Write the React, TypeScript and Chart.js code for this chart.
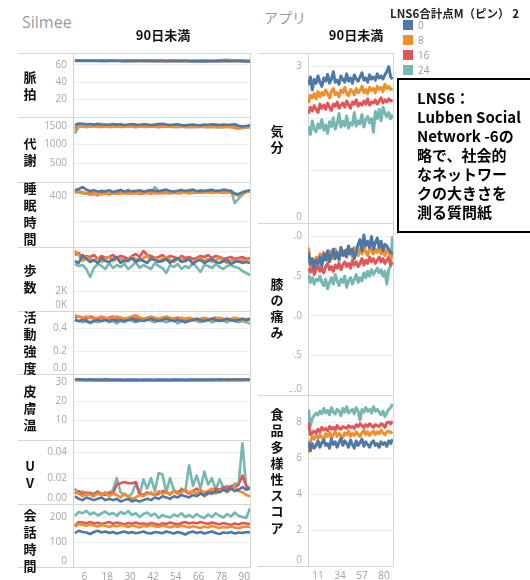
import React, { useEffect, useRef } from "react";
import { Chart, registerables } from "chart.js";

Chart.register(...registerables);

const FONT_CJK = '"Noto Sans CJK JP", "Noto Sans", sans-serif';
const FONT_TICK = '"Open Sans", "Noto Sans", sans-serif';

// ---------- series / legend ----------
const seriesNames = ["0", "8", "16", "24"];
const seriesColors = ["#4e79a7", "#f28e2b", "#e15759", "#76b7b2"];
const legendTitle = "LNS6合計点M（ピン） 2";

// ---------- x values (days) ----------
const silmeeDays = [1, 3, 5, 7, 9, 11, 13, 15, 17, 19, 21, 23, 25, 27, 29, 31, 33, 35, 37, 39, 41, 43, 45, 47, 49, 51, 53, 55, 57, 59, 61, 63, 65, 67, 69, 71, 73, 75, 77, 79, 81, 83, 85, 87, 89, 91, 93];
const appDays = [1, 3, 5, 7, 9, 11, 13, 15, 17, 19, 21, 23, 25, 27, 29, 31, 33, 35, 37, 39, 41, 43, 45, 47, 49, 51, 53, 55, 57, 59, 61, 63, 65, 67, 69, 71, 73, 75, 77, 79, 81, 83, 85, 87, 89];
const silmeeXTicks = [6, 18, 30, 42, 54, 66, 78, 90];
const appXTicks = [11, 34, 57, 80];

// ---------- Silmee: 脈拍 ----------
const pulseBlue = [64.6, 65.0, 64.7, 64.8, 64.5, 64.7, 64.9, 64.6, 64.4, 64.7, 64.8, 64.5, 64.6, 64.3, 64.7, 64.5, 64.4, 64.6, 64.7, 64.8, 64.5, 64.4, 64.6, 64.7, 64.3, 64.5, 64.6, 64.4, 64.7, 64.5, 64.2, 64.4, 64.3, 64.1, 64.4, 64.6, 64.3, 64.5, 64.4, 64.7, 64.6, 64.4, 64.5, 64.7, 64.4, 64.1, 64.0];
const pulseOrange = [65.2, 64.8, 65.0, 64.9, 65.1, 64.8, 65.0, 64.7, 64.9, 65.0, 64.8, 64.9, 64.6, 64.8, 64.7, 64.9, 64.6, 64.8, 64.5, 64.7, 64.6, 64.8, 64.5, 64.7, 64.4, 64.6, 64.5, 64.7, 64.4, 64.6, 64.5, 64.3, 64.6, 64.4, 64.5, 64.7, 64.4, 64.6, 64.5, 64.8, 64.6, 64.9, 64.7, 64.5, 64.6, 64.4, 64.5];
const pulseRed = [65.0, 65.3, 64.9, 65.1, 64.8, 65.0, 64.9, 65.1, 64.8, 64.9, 65.0, 64.8, 64.9, 64.7, 64.9, 64.6, 64.8, 64.9, 64.7, 64.8, 64.6, 64.9, 64.7, 64.5, 64.7, 64.8, 64.6, 64.7, 64.5, 64.6, 64.4, 64.6, 64.5, 64.7, 64.5, 64.4, 64.6, 64.5, 64.7, 64.6, 64.8, 64.6, 64.5, 64.7, 64.5, 64.6, 64.4];
const pulseTeal = [65.4, 65.1, 65.3, 64.9, 65.2, 65.0, 64.8, 65.1, 64.9, 65.2, 64.9, 65.1, 64.8, 65.0, 64.7, 65.2, 64.9, 64.8, 65.1, 64.9, 65.3, 64.8, 65.0, 64.7, 65.1, 64.9, 65.2, 64.8, 64.9, 65.1, 64.8, 64.9, 65.2, 64.8, 65.0, 64.7, 64.9, 65.1, 65.0, 65.8, 66.0, 65.3, 65.0, 64.8, 65.1, 64.9, 64.7];
const pulseTicks = [0, 20, 40, 60];
const pulseTickLabels = ["", "20", "40", "60"];

// ---------- 代謝 ----------
const metabBlue = [1520, 1560, 1555, 1540, 1545, 1530, 1550, 1540, 1535, 1525, 1545, 1530, 1540, 1520, 1535, 1545, 1530, 1525, 1540, 1535, 1520, 1530, 1545, 1550, 1535, 1525, 1530, 1540, 1520, 1510, 1525, 1530, 1520, 1515, 1530, 1525, 1540, 1530, 1520, 1535, 1525, 1530, 1540, 1500, 1480, 1495, 1510];
const metabOrange = [1380, 1500, 1490, 1480, 1495, 1485, 1490, 1475, 1480, 1490, 1485, 1470, 1480, 1475, 1490, 1485, 1470, 1480, 1485, 1490, 1475, 1480, 1470, 1485, 1490, 1480, 1465, 1475, 1480, 1470, 1475, 1465, 1470, 1480, 1475, 1460, 1470, 1475, 1465, 1460, 1470, 1465, 1455, 1440, 1450, 1460, 1470];
const metabRed = [1420, 1510, 1505, 1500, 1510, 1495, 1505, 1500, 1495, 1505, 1500, 1490, 1500, 1495, 1505, 1500, 1490, 1495, 1500, 1505, 1495, 1500, 1490, 1500, 1505, 1495, 1485, 1495, 1500, 1490, 1495, 1485, 1490, 1495, 1490, 1480, 1490, 1495, 1485, 1480, 1490, 1485, 1475, 1470, 1480, 1485, 1490];
const metabTeal = [1300, 1470, 1480, 1460, 1475, 1490, 1465, 1470, 1485, 1460, 1475, 1480, 1465, 1470, 1490, 1475, 1460, 1480, 1470, 1465, 1485, 1470, 1460, 1475, 1480, 1470, 1465, 1460, 1475, 1470, 1460, 1465, 1475, 1470, 1460, 1465, 1470, 1460, 1455, 1465, 1470, 1460, 1430, 1420, 1440, 1450, 1460];
const metabTicks = [0, 500, 1000, 1500];
const metabTickLabels = ["", "500", "1000", "1500"];

// ---------- 睡眠時間 ----------
const sleepBlue = [445, 455, 470, 450, 440, 445, 435, 440, 438, 445, 432, 440, 448, 436, 442, 438, 440, 445, 435, 442, 448, 440, 438, 445, 450, 440, 436, 442, 448, 440, 445, 450, 438, 442, 440, 445, 448, 440, 442, 450, 445, 438, 420, 415, 430, 440, 445];
const sleepOrange = [430, 440, 425, 420, 415, 418, 420, 412, 418, 422, 420, 416, 420, 425, 418, 422, 420, 425, 430, 422, 418, 425, 428, 420, 424, 430, 422, 426, 430, 425, 420, 428, 432, 425, 430, 428, 424, 430, 435, 428, 432, 430, 410, 405, 420, 430, 440];
const sleepRed = [425, 435, 430, 418, 422, 420, 415, 425, 420, 418, 424, 420, 426, 422, 418, 425, 428, 422, 420, 426, 430, 424, 420, 428, 425, 430, 426, 422, 430, 432, 428, 425, 430, 428, 432, 430, 428, 434, 430, 426, 432, 428, 412, 408, 425, 435, 438];
const sleepTeal = [440, 430, 420, 425, 410, 415, 405, 430, 420, 412, 425, 418, 440, 430, 450, 420, 428, 415, 425, 435, 420, 470, 440, 430, 425, 418, 432, 428, 420, 440, 436, 425, 430, 445, 438, 440, 450, 435, 428, 440, 430, 445, 345, 380, 410, 430, 440];
const sleepTicks = [0, 200, 400];
const sleepTickLabels = ["", "", "400"];

// ---------- 歩数 ----------
const stepsBlue = [5000, 4800, 5600, 5200, 4900, 5100, 4800, 5300, 5000, 4900, 5200, 5400, 4800, 5100, 5000, 5300, 4900, 5200, 5000, 4800, 5300, 5100, 4900, 5000, 5200, 4800, 5100, 5300, 4900, 5000, 5200, 4700, 5000, 5100, 4800, 5000, 5200, 4900, 4800, 5000, 5100, 4700, 4900, 5000, 4800, 4900, 4800];
const stepsOrange = [6000, 5600, 5000, 5400, 5200, 5000, 5300, 4900, 5200, 5400, 5000, 5200, 5300, 4900, 5100, 5400, 5200, 5000, 5300, 5500, 5100, 5300, 5000, 5200, 5400, 5100, 4900, 5200, 5300, 5000, 5200, 4800, 5100, 5300, 5000, 5200, 4900, 5100, 5300, 5000, 4800, 5100, 5000, 4900, 5100, 5000, 5200];
const stepsRed = [5600, 5800, 5300, 5500, 5400, 5600, 5200, 5500, 5300, 5400, 5600, 5300, 5500, 5400, 5200, 5500, 5700, 5400, 6000, 5600, 5500, 5300, 5400, 5600, 5300, 5500, 5400, 5200, 5500, 5300, 5400, 5200, 5300, 5500, 5400, 5600, 5300, 5500, 5400, 5200, 5300, 5400, 5200, 5300, 5400, 5200, 5300];
const stepsTeal = [4700, 4500, 4600, 4200, 3400, 4300, 4700, 4500, 4200, 4800, 4300, 4600, 4400, 4700, 4200, 4500, 4900, 4300, 4600, 4400, 4200, 4800, 4500, 4300, 3800, 4600, 4400, 4700, 4200, 4500, 4300, 4800, 4400, 3900, 4600, 4500, 4300, 4700, 4400, 4200, 4500, 4600, 4400, 4300, 4000, 3800, 3600];
const stepsTicks = [0, 2000, 4000, 6000];
const stepsTickLabels = ["0K", "2K", "", ""];

// ---------- 活動強度 ----------
const actBlue = [0.47, 0.46, 0.47, 0.46, 0.45, 0.46, 0.47, 0.46, 0.47, 0.46, 0.47, 0.46, 0.47, 0.46, 0.47, 0.48, 0.46, 0.47, 0.46, 0.47, 0.48, 0.47, 0.46, 0.47, 0.48, 0.47, 0.46, 0.47, 0.46, 0.45, 0.46, 0.47, 0.48, 0.47, 0.46, 0.47, 0.48, 0.47, 0.46, 0.47, 0.48, 0.47, 0.46, 0.47, 0.48, 0.47, 0.48];
const actOrange = [0.51, 0.50, 0.49, 0.50, 0.49, 0.48, 0.49, 0.50, 0.49, 0.48, 0.49, 0.50, 0.49, 0.48, 0.49, 0.50, 0.51, 0.49, 0.48, 0.49, 0.50, 0.49, 0.48, 0.49, 0.50, 0.49, 0.48, 0.47, 0.49, 0.48, 0.49, 0.48, 0.47, 0.48, 0.49, 0.48, 0.47, 0.48, 0.49, 0.48, 0.47, 0.48, 0.49, 0.48, 0.47, 0.48, 0.47];
const actRed = [0.49, 0.50, 0.49, 0.48, 0.50, 0.49, 0.48, 0.49, 0.48, 0.49, 0.50, 0.48, 0.49, 0.48, 0.47, 0.49, 0.48, 0.49, 0.48, 0.49, 0.48, 0.47, 0.48, 0.49, 0.48, 0.47, 0.48, 0.49, 0.48, 0.47, 0.48, 0.47, 0.48, 0.47, 0.48, 0.47, 0.48, 0.49, 0.48, 0.47, 0.48, 0.47, 0.48, 0.47, 0.48, 0.47, 0.48];
const actTeal = [0.47, 0.46, 0.45, 0.46, 0.44, 0.46, 0.45, 0.46, 0.47, 0.45, 0.46, 0.44, 0.46, 0.45, 0.47, 0.46, 0.45, 0.46, 0.47, 0.48, 0.46, 0.45, 0.47, 0.46, 0.45, 0.46, 0.47, 0.44, 0.46, 0.45, 0.46, 0.47, 0.46, 0.45, 0.46, 0.47, 0.45, 0.46, 0.47, 0.46, 0.45, 0.47, 0.46, 0.45, 0.46, 0.45, 0.44];
const actTicks = [0, 0.2, 0.4];
const actTickLabels = ["0.0", "0.2", "0.4"];

// ---------- 皮膚温 ----------
const skinBlue = [31.2, 31.3, 31.1, 31.2, 31.3, 31.2, 31.1, 31.2, 31.3, 31.1, 31.2, 31.1, 31.2, 31.0, 31.1, 31.2, 31.1, 31.0, 31.1, 31.2, 31.1, 31.0, 31.1, 31.2, 31.1, 31.0, 31.1, 31.2, 31.1, 31.0, 31.1, 31.2, 31.1, 31.2, 31.1, 31.0, 31.1, 31.2, 31.3, 31.2, 31.1, 31.2, 31.3, 31.2, 31.1, 31.2, 31.2];
const skinOrange = [31.0, 30.9, 31.0, 30.8, 30.9, 31.0, 30.9, 30.8, 30.9, 30.8, 30.9, 30.8, 30.7, 30.8, 30.9, 30.8, 30.7, 30.8, 30.9, 30.8, 30.7, 30.8, 30.9, 30.8, 30.7, 30.8, 30.9, 30.8, 30.7, 30.8, 30.9, 30.8, 30.9, 30.8, 30.9, 31.0, 30.9, 30.8, 30.9, 31.0, 30.9, 31.0, 30.9, 31.0, 30.9, 31.0, 31.0];
const skinRed = [30.9, 31.0, 30.9, 30.8, 30.9, 30.8, 30.9, 30.8, 30.7, 30.8, 30.8, 30.7, 30.8, 30.7, 30.8, 30.7, 30.6, 30.7, 30.8, 30.7, 30.8, 30.7, 30.8, 30.7, 30.8, 30.7, 30.8, 30.9, 30.8, 30.7, 30.8, 30.9, 30.8, 30.9, 30.8, 30.9, 31.0, 30.9, 30.8, 30.9, 31.0, 30.9, 31.0, 30.9, 31.0, 30.9, 31.0];
const skinTeal = [31.0, 30.9, 30.8, 30.9, 30.8, 30.7, 30.6, 30.7, 30.6, 30.5, 30.6, 30.7, 30.6, 30.5, 30.6, 30.7, 30.6, 30.7, 30.8, 30.7, 30.6, 30.7, 30.8, 30.7, 30.6, 30.7, 30.8, 30.7, 30.8, 30.7, 30.8, 30.7, 30.8, 30.9, 30.8, 30.7, 30.8, 30.9, 30.8, 30.9, 30.8, 30.9, 30.8, 30.9, 30.8, 30.9, 30.9];
const skinTicks = [0, 10, 20, 30];
const skinTickLabels = ["", "10", "20", "30"];

// ---------- UV ----------
const uvBlue = [0.006, 0.004, 0.003, 0.005, 0.004, 0.003, 0.004, 0.005, 0.003, 0.004, 0.003, 0.004, 0.002, 0.003, 0.004, 0.002, 0.003, 0.002, 0.003, 0.004, 0.003, 0.005, 0.004, 0.006, 0.005, 0.004, 0.006, 0.005, 0.007, 0.006, 0.005, 0.007, 0.006, 0.008, 0.007, 0.009, 0.008, 0.010, 0.009, 0.011, 0.010, 0.012, 0.010, 0.011, 0.013, 0.011, 0.012];
const uvOrange = [0.010, 0.008, 0.006, 0.008, 0.007, 0.006, 0.008, 0.007, 0.009, 0.006, 0.008, 0.007, 0.005, 0.008, 0.006, 0.004, 0.005, 0.007, 0.006, 0.008, 0.009, 0.007, 0.010, 0.008, 0.009, 0.007, 0.010, 0.008, 0.009, 0.011, 0.009, 0.010, 0.008, 0.011, 0.009, 0.010, 0.012, 0.008, 0.010, 0.011, 0.009, 0.012, 0.013, 0.010, 0.009, 0.007, 0.006];
const uvRed = [0.008, 0.010, 0.007, 0.009, 0.008, 0.007, 0.009, 0.008, 0.007, 0.009, 0.008, 0.015, 0.016, 0.017, 0.016, 0.016, 0.017, 0.008, 0.007, 0.009, 0.008, 0.007, 0.008, 0.010, 0.009, 0.008, 0.010, 0.009, 0.011, 0.010, 0.008, 0.010, 0.012, 0.009, 0.006, 0.008, 0.010, 0.012, 0.011, 0.013, 0.012, 0.014, 0.013, 0.015, 0.022, 0.014, 0.012];
const uvTeal = [0.012, 0.008, 0.010, 0.007, 0.009, 0.008, 0.010, 0.007, 0.009, 0.008, 0.011, 0.020, 0.009, 0.007, 0.006, 0.008, 0.016, 0.007, 0.019, 0.012, 0.020, 0.010, 0.024, 0.023, 0.009, 0.020, 0.011, 0.008, 0.012, 0.010, 0.030, 0.014, 0.022, 0.012, 0.025, 0.015, 0.020, 0.011, 0.019, 0.013, 0.014, 0.012, 0.016, 0.015, 0.047, 0.013, 0.012];
const uvTicks = [0, 0.02, 0.04];
const uvTickLabels = ["0.00", "0.02", "0.04"];

// ---------- 会話時間 ----------
const talkBlue = [135, 145, 140, 138, 132, 140, 145, 138, 142, 136, 140, 134, 138, 142, 136, 140, 135, 138, 142, 136, 134, 140, 138, 135, 142, 138, 134, 140, 136, 130, 138, 142, 136, 140, 134, 138, 142, 136, 132, 138, 136, 140, 134, 138, 136, 140, 138];
const talkOrange = [160, 172, 168, 165, 170, 166, 162, 168, 165, 160, 166, 163, 168, 165, 160, 167, 163, 158, 165, 162, 168, 163, 160, 166, 162, 158, 164, 160, 166, 162, 158, 163, 160, 156, 162, 158, 164, 160, 156, 160, 158, 162, 158, 155, 160, 162, 160];
const talkRed = [165, 180, 178, 175, 180, 174, 177, 172, 176, 180, 173, 178, 175, 170, 176, 173, 178, 172, 175, 170, 176, 173, 168, 175, 172, 178, 174, 170, 176, 180, 174, 178, 175, 180, 176, 172, 178, 174, 170, 176, 172, 168, 174, 170, 176, 174, 172];
const talkTeal = [205, 220, 215, 225, 210, 218, 206, 214, 222, 210, 216, 205, 220, 212, 224, 208, 215, 200, 212, 218, 205, 214, 196, 208, 202, 198, 210, 203, 215, 200, 208, 198, 212, 202, 196, 210, 200, 215, 205, 198, 212, 202, 218, 205, 200, 196, 235];
const talkTicks = [0, 100, 200];
const talkTickLabels = ["0", "100", "200"];

// ---------- アプリ: 気分 ----------
const moodBlue = [2.65, 2.80, 2.55, 2.75, 2.68, 2.82, 2.70, 2.62, 2.78, 2.72, 2.85, 2.68, 2.76, 2.90, 2.70, 2.74, 2.66, 2.82, 2.75, 2.70, 2.86, 2.72, 2.78, 2.68, 2.84, 2.76, 2.72, 2.80, 2.88, 2.74, 2.78, 2.70, 2.84, 2.76, 2.80, 2.74, 2.86, 2.78, 2.82, 2.76, 2.84, 2.90, 3.00, 2.80, 2.76];
const moodOrange = [2.30, 2.45, 2.40, 2.48, 2.38, 2.52, 2.42, 2.50, 2.45, 2.55, 2.48, 2.40, 2.52, 2.58, 2.46, 2.50, 2.42, 2.55, 2.50, 2.60, 2.48, 2.44, 2.56, 2.52, 2.46, 2.58, 2.50, 2.54, 2.62, 2.50, 2.56, 2.48, 2.60, 2.54, 2.58, 2.50, 2.62, 2.56, 2.60, 2.52, 2.66, 2.58, 2.62, 2.56, 2.58];
const moodRed = [2.10, 2.22, 2.15, 2.25, 2.18, 2.12, 2.28, 2.20, 2.26, 2.18, 2.30, 2.22, 2.16, 2.28, 2.24, 2.32, 2.20, 2.26, 2.30, 2.22, 2.34, 2.26, 2.20, 2.32, 2.28, 2.36, 2.24, 2.30, 2.26, 2.34, 2.28, 2.38, 2.26, 2.32, 2.30, 2.36, 2.28, 2.34, 2.40, 2.30, 2.36, 2.32, 2.38, 2.34, 2.36];
const moodTeal = [1.85, 1.70, 1.95, 1.80, 1.75, 1.90, 1.82, 1.98, 1.78, 1.88, 1.72, 1.94, 1.85, 2.02, 1.80, 1.90, 2.10, 1.84, 1.95, 1.86, 2.05, 1.82, 1.92, 1.88, 2.12, 1.86, 1.96, 1.90, 2.08, 1.84, 1.98, 2.04, 1.92, 2.00, 1.74, 2.14, 2.00, 2.18, 1.96, 2.22, 2.10, 2.04, 2.12, 2.00, 2.08];
const moodTicks = [0, 1, 2, 3];
const moodTickLabels = ["0", "1", "2", "3"];

// ---------- 膝の痛み ----------
const kneeBlue = [1.80, 1.65, 1.72, 1.60, 1.70, 1.66, 1.74, 1.62, 1.78, 1.70, 1.82, 1.68, 1.76, 1.84, 1.72, 1.80, 1.70, 1.86, 1.76, 1.82, 1.74, 1.88, 1.78, 1.84, 1.72, 1.80, 1.90, 1.96, 1.82, 2.02, 1.88, 1.94, 1.86, 2.00, 1.84, 1.92, 1.98, 1.86, 1.94, 1.82, 1.90, 1.88, 1.84, 1.80, 1.78];
const kneeOrange = [1.86, 1.62, 1.70, 1.66, 1.74, 1.68, 1.78, 1.72, 1.80, 1.76, 1.70, 1.82, 1.76, 1.72, 1.84, 1.78, 1.74, 1.86, 1.80, 1.76, 1.84, 1.78, 1.82, 1.74, 1.86, 1.80, 1.76, 1.84, 1.78, 1.88, 1.80, 1.76, 1.86, 1.82, 1.78, 1.84, 1.80, 1.86, 1.78, 1.82, 1.76, 1.84, 1.80, 1.74, 1.78];
const kneeRed = [1.60, 1.55, 1.62, 1.52, 1.58, 1.64, 1.56, 1.60, 1.54, 1.62, 1.66, 1.58, 1.62, 1.56, 1.64, 1.60, 1.66, 1.58, 1.64, 1.68, 1.62, 1.66, 1.60, 1.70, 1.64, 1.68, 1.62, 1.66, 1.72, 1.64, 1.70, 1.66, 1.74, 1.68, 1.72, 1.66, 1.70, 1.74, 1.68, 1.72, 1.66, 1.70, 1.74, 1.64, 1.68];
const kneeTeal = [1.52, 1.42, 1.48, 1.40, 1.46, 1.44, 1.50, 1.42, 1.38, 1.46, 1.34, 1.42, 1.48, 1.40, 1.52, 1.44, 1.38, 1.46, 1.42, 1.50, 1.36, 1.44, 1.48, 1.40, 1.46, 1.52, 1.42, 1.48, 1.44, 1.54, 1.48, 1.56, 1.50, 1.58, 1.52, 1.56, 1.60, 1.54, 1.58, 1.50, 1.56, 1.40, 1.58, 1.62, 2.00];
const kneeTicks = [0, 0.5, 1, 1.5, 2];
const kneeTickLabels = ["0.0", "0.5", "1.0", "1.5", "2.0"];

// ---------- 食品多様性スコア ----------
const foodBlue = [6.90, 6.40, 6.80, 6.55, 6.70, 6.95, 6.60, 6.85, 7.00, 6.70, 6.80, 6.55, 7.05, 6.75, 6.90, 6.60, 6.85, 7.10, 6.70, 6.95, 6.80, 6.60, 7.00, 6.75, 6.55, 6.95, 6.70, 6.85, 7.05, 6.65, 6.90, 6.75, 6.60, 6.85, 6.95, 6.70, 6.80, 6.60, 6.90, 6.75, 6.85, 6.65, 6.95, 6.80, 7.05];
const foodOrange = [6.30, 6.90, 7.20, 7.05, 7.25, 7.10, 7.30, 7.15, 7.00, 7.35, 7.20, 7.40, 7.10, 7.30, 7.45, 7.20, 7.35, 7.25, 7.15, 7.40, 7.30, 7.50, 7.20, 7.35, 7.25, 7.45, 7.30, 7.20, 7.40, 7.55, 7.30, 7.45, 7.25, 7.40, 7.50, 7.30, 7.45, 7.35, 7.55, 7.40, 7.30, 7.45, 7.50, 7.40, 7.45];
const foodRed = [8.00, 7.30, 7.40, 7.50, 7.35, 7.60, 7.45, 7.70, 7.55, 7.65, 7.50, 7.75, 7.60, 7.70, 7.55, 7.80, 7.65, 7.60, 7.75, 7.70, 7.65, 7.80, 7.70, 7.75, 7.65, 7.85, 7.75, 7.90, 7.80, 7.70, 7.85, 7.75, 7.90, 7.80, 7.70, 7.85, 7.80, 7.75, 7.90, 7.85, 7.70, 7.95, 8.00, 7.90, 8.05];
const foodTeal = [8.70, 7.80, 8.20, 8.35, 8.50, 8.40, 8.60, 8.45, 8.75, 8.50, 8.65, 8.40, 8.80, 8.55, 8.45, 8.70, 8.60, 8.35, 8.75, 8.55, 8.85, 8.50, 8.60, 8.70, 8.45, 8.80, 8.60, 8.10, 8.70, 8.55, 8.80, 8.60, 8.70, 8.50, 8.85, 8.60, 8.70, 8.55, 8.40, 8.60, 8.30, 8.50, 8.70, 8.80, 9.00];
const foodTicks = [0, 2, 4, 6, 8];
const foodTickLabels = ["0", "2", "4", "6", "8"];

// ---------- panel definitions ----------
type PanelDef = {
  label: string[];
  yMax: number;
  ticks: number[];
  tickLabels: string[];
  series: number[][];
};

const silmeePanels: PanelDef[] = [
  { label: ["脈", "拍"], yMax: 73.8, ticks: pulseTicks, tickLabels: pulseTickLabels, series: [pulseBlue, pulseOrange, pulseRed, pulseTeal] },
  { label: ["代", "謝"], yMax: 1733, ticks: metabTicks, tickLabels: metabTickLabels, series: [metabBlue, metabOrange, metabRed, metabTeal] },
  { label: ["睡", "眠", "時", "間"], yMax: 510, ticks: sleepTicks, tickLabels: sleepTickLabels, series: [sleepBlue, sleepOrange, sleepRed, sleepTeal] },
  { label: ["歩", "数"], yMax: 6400, ticks: stepsTicks, tickLabels: stepsTickLabels, series: [stepsBlue, stepsOrange, stepsRed, stepsTeal] },
  { label: ["活", "動", "強", "度"], yMax: 0.548, ticks: actTicks, tickLabels: actTickLabels, series: [actBlue, actOrange, actRed, actTeal] },
  { label: ["皮", "膚", "温"], yMax: 34, ticks: skinTicks, tickLabels: skinTickLabels, series: [skinBlue, skinOrange, skinRed, skinTeal] },
  { label: ["U", "V"], yMax: 0.0495, ticks: uvTicks, tickLabels: uvTickLabels, series: [uvBlue, uvOrange, uvRed, uvTeal] },
  { label: ["会", "話", "時", "間"], yMax: 252, ticks: talkTicks, tickLabels: talkTickLabels, series: [talkBlue, talkOrange, talkRed, talkTeal] },
];

const appPanels: PanelDef[] = [
  { label: ["気", "分"], yMax: 3.26, ticks: moodTicks, tickLabels: moodTickLabels, series: [moodBlue, moodOrange, moodRed, moodTeal] },
  { label: ["膝", "の", "痛", "み"], yMax: 2.17, ticks: kneeTicks, tickLabels: kneeTickLabels, series: [kneeBlue, kneeOrange, kneeRed, kneeTeal] },
  { label: ["食", "品", "多", "様", "性", "ス", "コ", "ア"], yMax: 9.5, ticks: foodTicks, tickLabels: foodTickLabels, series: [foodBlue, foodOrange, foodRed, foodTeal] },
];

// ---------- layout ----------
type ColLayout = {
  sepLeft: number;
  canvasLeft: number;
  axisW: number;
  right: number;
  xMin: number;
  xMax: number;
  days: number[];
  xTicks: number[];
  edges: number[];
  labelX: number;
  labelCenters: number[];
  labelLH: number;
  labelSize: number;
  lineWidth: number;
  boxes: ({ l: number; t: number; w: number; h: number } | null)[];
};

const silmeeLayout: ColLayout = {
  sepLeft: 18, canvasLeft: 18, axisW: 55, right: 250, xMin: 0, xMax: 93,
  days: silmeeDays, xTicks: silmeeXTicks,
  edges: [53, 117, 182, 247, 311, 374, 440, 504, 567],
  labelX: 30, labelCenters: [85, 151, 213, 278, 342, 407, 474, 540], labelLH: 17, labelSize: 13,
  lineWidth: 2.6,
  boxes: [null, null, null, null, null, null, null, null],
};

const appLayout: ColLayout = {
  sepLeft: 258, canvasLeft: 258, axisW: 50, right: 393, xMin: 0.5, xMax: 89.5,
  days: appDays, xTicks: appXTicks,
  edges: [53, 223, 395, 566],
  labelX: 277, labelCenters: [139, 308, 471], labelLH: 16.2, labelSize: 13,
  lineWidth: 3,
  boxes: [{ l: 259, t: 84, w: 42, h: 124 }, { l: 259, t: 228, w: 34, h: 163 }, null],
};

const X_AXIS_H = 18;

function Panel({ col, def, top, bottom, isLast }: { col: ColLayout; def: PanelDef; top: number; bottom: number; isLast: boolean }) {
  const ref = useRef<HTMLCanvasElement>(null);
  const h = bottom - top;
  const canvasH = isLast ? h + X_AXIS_H : h;
  const canvasW = col.right - col.canvasLeft;

  useEffect(() => {
    const chart = new Chart(ref.current as HTMLCanvasElement, {
      type: "line",
      data: {
        datasets: def.series.map((vals, i) => ({
          label: seriesNames[i],
          data: vals.map((v, j) => ({ x: col.days[j], y: v })),
          borderColor: seriesColors[i],
          backgroundColor: seriesColors[i],
          borderWidth: col.lineWidth,
          pointRadius: 0,
          tension: 0,
          fill: false,
          borderJoinStyle: "round",
        })),
      },
      options: {
        responsive: false,
        animation: false,
        devicePixelRatio: 1,
        events: [],
        layout: { padding: 0 },
        plugins: { legend: { display: false }, tooltip: { enabled: false } },
        scales: {
          x: {
            type: "linear",
            min: col.xMin,
            max: col.xMax,
            display: isLast,
            afterBuildTicks: (s: any) => {
              s.ticks = col.xTicks.map((v) => ({ value: v }));
            },
            afterFit: (s: any) => {
              s.height = isLast ? X_AXIS_H : 0;
              s.paddingLeft = 0;
              s.paddingRight = 0;
            },
            grid: { display: false, drawTicks: false },
            border: { display: false },
            ticks: {
              color: "#a0a0a0",
              font: { size: 10, family: FONT_TICK },
              padding: 4,
              maxRotation: 0,
              autoSkip: false,
              callback: (v: any) => String(v),
            },
          },
          y: {
            type: "linear",
            min: 0,
            max: def.yMax,
            afterBuildTicks: (s: any) => {
              s.ticks = def.ticks.map((v) => ({ value: v }));
            },
            afterFit: (s: any) => {
              s.width = col.axisW;
              s.paddingTop = 0;
              s.paddingBottom = 0;
            },
            grid: { color: "#ededed", drawTicks: false },
            border: { display: true, color: "#d2d2d2" },
            ticks: {
              color: "#a8a8a8",
              font: { size: 10, family: FONT_TICK },
              padding: 6,
              autoSkip: false,
              callback: (v: any, i: number) => {
                const t = def.tickLabels[i];
                return v === 0 && t ? [t, ""] : t;
              },
            },
          },
        },
      },
    } as any);
    return () => chart.destroy();
  }, []);

  return (
    <canvas
      ref={ref}
      width={canvasW}
      height={canvasH}
      style={{ position: "absolute", left: col.canvasLeft, top, width: canvasW, height: canvasH }}
    />
  );
}

function VLabel({ chars, cx, cy, lh, size }: { chars: string[]; cx: number; cy: number; lh: number; size: number }) {
  return (
    <div
      style={{
        position: "absolute",
        left: cx - 12,
        width: 24,
        top: cy - (chars.length * lh) / 2,
        textAlign: "center",
        fontFamily: FONT_CJK,
        fontWeight: 700,
        fontSize: size,
        lineHeight: lh + "px",
        color: "#111",
      }}
    >
      {chars.map((c, i) => (
        <div key={i}>{c}</div>
      ))}
    </div>
  );
}

function Column({ col, panels, title, titleX }: { col: ColLayout; panels: PanelDef[]; title: string; titleX: number }) {
  const e = col.edges;
  return (
    <>
      {panels.map((p, i) => (
        <Panel key={i} col={col} def={p} top={e[i]} bottom={e[i + 1]} isLast={i === panels.length - 1} />
      ))}
      {e.map((y, i) => (
        <div key={"s" + i} style={{ position: "absolute", left: col.sepLeft, top: y, width: col.right - col.sepLeft + 1, height: 1, background: "#d6d6d6" }} />
      ))}
      <div style={{ position: "absolute", left: col.right, top: e[0], width: 1, height: e[e.length - 1] - e[0], background: "#d6d6d6" }} />
      {panels.map((p, i) =>
        col.boxes[i] ? (
          <div
            key={"b" + i}
            style={{ position: "absolute", left: col.boxes[i]!.l, top: col.boxes[i]!.t, width: col.boxes[i]!.w, height: col.boxes[i]!.h, background: "#fff" }}
          />
        ) : null
      )}
      {panels.map((p, i) => (
        <VLabel key={"l" + i} chars={p.label} cx={col.labelX} cy={col.labelCenters[i]} lh={col.labelLH} size={col.labelSize} />
      ))}
      <div
        style={{
          position: "absolute",
          left: titleX - 40,
          width: 80,
          top: 26,
          textAlign: "center",
          fontFamily: FONT_CJK,
          fontWeight: 700,
          fontSize: 13,
          lineHeight: "18px",
          color: "#111",
        }}
      >
        {title}
      </div>
    </>
  );
}

export default function App() {
  return (
    <div
      style={{
        position: "fixed",
        left: 0,
        top: 0,
        width: 530,
        height: 580,
        overflow: "hidden",
        background: "#fff",
      }}
    >
      <div style={{ position: "absolute", left: 22, top: 10, fontFamily: FONT_TICK, fontSize: 16, lineHeight: "24px", color: "#9a9a9a" }}>
        Silmee
      </div>
      <div style={{ position: "absolute", left: 264, top: 7, fontFamily: FONT_CJK, fontSize: 14, lineHeight: "20px", color: "#9a9a9a" }}>
        アプリ
      </div>

      <Column col={silmeeLayout} panels={silmeePanels} title="90日未満" titleX={163} />
      <Column col={appLayout} panels={appPanels} title="90日未満" titleX={356} />

      {/* legend */}
      <div
        style={{
          position: "absolute",
          left: 390,
          top: 4,
          whiteSpace: "nowrap",
          fontFamily: FONT_CJK,
          fontWeight: 700,
          fontSize: 11.5,
          lineHeight: "18px",
          color: "#222",
        }}
      >
        {legendTitle}
      </div>
      {seriesNames.map((n, i) => (
        <div key={n} style={{ position: "absolute", left: 403, top: 20 + i * 15, height: 10, display: "flex", alignItems: "center" }}>
          <div style={{ width: 10, height: 10, background: seriesColors[i] }} />
          <div style={{ marginLeft: 5, fontFamily: FONT_TICK, fontSize: 10, color: "#9a9a9a", lineHeight: "10px" }}>{n}</div>
        </div>
      ))}

      {/* annotation */}
      <div
        style={{
          position: "absolute",
          left: 397,
          top: 78,
          width: 160,
          height: 151,
          border: "2px solid #000",
          background: "#fff",
          boxSizing: "content-box",
        }}
      >
        <div
          style={{
            position: "absolute",
            left: 18,
            top: 8,
            fontFamily: FONT_CJK,
            fontWeight: 700,
            fontSize: 15,
            lineHeight: "19px",
            color: "#000",
            whiteSpace: "nowrap",
          }}
        >
          LNS6：
          <br />
          Lubben Social
          <br />
          Network -6の
          <br />
          略で、社会的
          <br />
          なネットワー
          <br />
          クの大きさを
          <br />
          測る質問紙
        </div>
      </div>
    </div>
  );
}
